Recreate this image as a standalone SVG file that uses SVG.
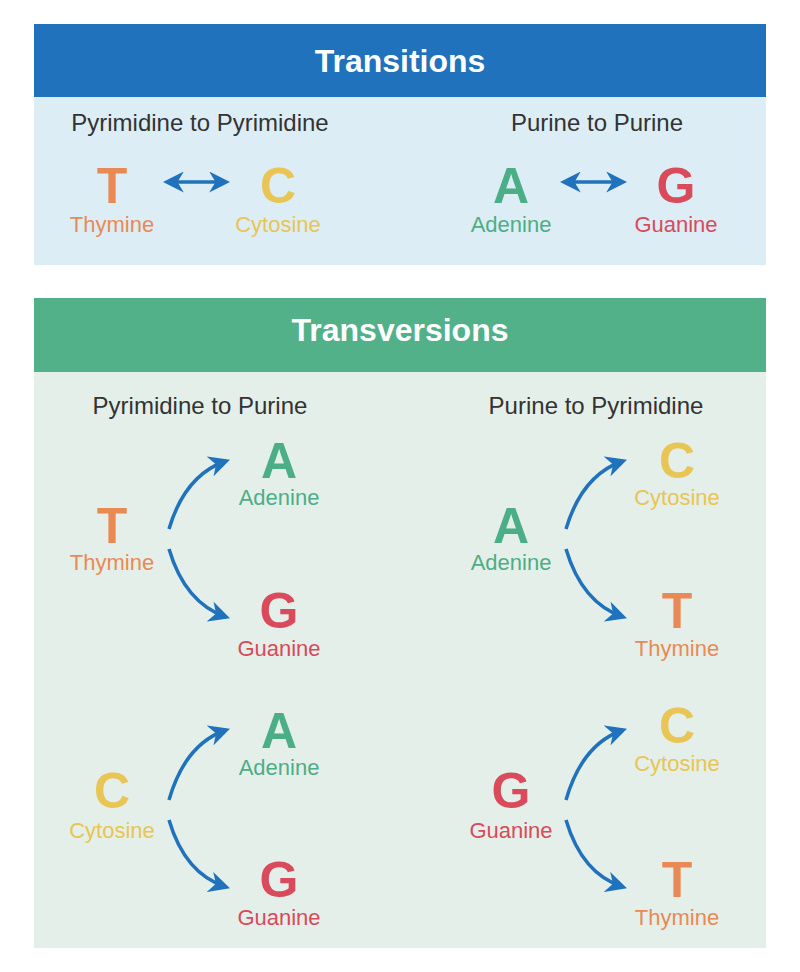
<svg xmlns="http://www.w3.org/2000/svg" width="800" height="972" viewBox="0 0 800 972">
<style>
text{font-family:"Liberation Sans",Arial,sans-serif;text-anchor:middle}
.h{font-size:32px;font-weight:bold;fill:#fff}
.s{font-size:24px;fill:#333}
.L{font-size:50px;font-weight:bold}
.n{font-size:22px}
.o{fill:#e98a55}.y{fill:#e8c554}.g{fill:#4cae86}.r{fill:#d94a5a}
.c{fill:none;stroke:#1f72bb;stroke-width:3.5}
</style>
<defs>
<marker id="ah" viewBox="0 0 10 10" refX="8" refY="5" markerWidth="6" markerHeight="6" orient="auto-start-reverse" markerUnits="strokeWidth">
<path d="M0,0 L10,5 L0,10 L3,5 Z" fill="#1f72bb"/>
</marker>
</defs>
<rect width="800" height="972" fill="#fff"/>
<g id="transitions">
<rect x="34" y="24" width="732" height="241" fill="#dcedf5"/>
<rect x="34" y="24" width="732" height="73" fill="#1f72bb"/>
<text class="h" x="400" y="72">Transitions</text>
<text class="s" x="200" y="131">Pyrimidine to Pyrimidine</text>
<text class="s" x="597" y="131">Purine to Purine</text>
</g>
<g id="tT"><text class="L o" x="112" y="203">T</text><text class="n o" x="112" y="232">Thymine</text></g>
<g id="tC"><text class="L y" x="278" y="203">C</text><text class="n y" x="278" y="232">Cytosine</text></g>
<g id="tA"><text class="L g" x="511" y="203">A</text><text class="n g" x="511" y="232">Adenine</text></g>
<g id="tG"><text class="L r" x="676" y="203">G</text><text class="n r" x="676" y="232">Guanine</text></g>
<g id="transversions">
<rect x="34" y="298" width="732" height="650" fill="#e4efe9"/>
<rect x="34" y="298" width="732" height="74" fill="#52b189"/>
<text class="h" x="400" y="341">Transversions</text>
<text class="s" x="200" y="414">Pyrimidine to Purine</text>
<text class="s" x="596" y="414">Purine to Pyrimidine</text>
</g>
<g id="g1T"><text class="L o" x="112" y="543">T</text><text class="n o" x="112" y="570">Thymine</text></g>
<g id="g1A"><text class="L g" x="279" y="478">A</text><text class="n g" x="279" y="505">Adenine</text></g>
<g id="g1G"><text class="L r" x="279" y="628">G</text><text class="n r" x="279" y="656">Guanine</text></g>
<g id="g2A"><text class="L g" x="511" y="543">A</text><text class="n g" x="511" y="570">Adenine</text></g>
<g id="g2C"><text class="L y" x="677" y="478">C</text><text class="n y" x="677" y="505">Cytosine</text></g>
<g id="g2T"><text class="L o" x="677" y="628">T</text><text class="n o" x="677" y="656">Thymine</text></g>
<g id="g3C"><text class="L y" x="112" y="808">C</text><text class="n y" x="112" y="838">Cytosine</text></g>
<g id="g3A"><text class="L g" x="279" y="748">A</text><text class="n g" x="279" y="775">Adenine</text></g>
<g id="g3G"><text class="L r" x="279" y="897">G</text><text class="n r" x="279" y="925">Guanine</text></g>
<g id="g4G"><text class="L r" x="511" y="808">G</text><text class="n r" x="511" y="838">Guanine</text></g>
<g id="g4C"><text class="L y" x="677" y="743">C</text><text class="n y" x="677" y="771">Cytosine</text></g>
<g id="g4T"><text class="L o" x="677" y="897">T</text><text class="n o" x="677" y="925">Thymine</text></g>
<g id="connectors">
<path class="c" d="M167,182 H226" marker-start="url(#ah)" marker-end="url(#ah)"/>
<path class="c" d="M564,182 H623" marker-start="url(#ah)" marker-end="url(#ah)"/>
<path class="c" d="M169,529 Q185,475 226,461" marker-end="url(#ah)"/>
<path class="c" d="M169,549 Q185,603 226,617" marker-end="url(#ah)"/>
<path class="c" d="M566,529 Q582,475 623,461" marker-end="url(#ah)"/>
<path class="c" d="M566,549 Q582,603 623,617" marker-end="url(#ah)"/>
<path class="c" d="M169,800 Q185,744 226,730" marker-end="url(#ah)"/>
<path class="c" d="M169,820 Q185,874 226,887" marker-end="url(#ah)"/>
<path class="c" d="M566,800 Q582,744 623,730" marker-end="url(#ah)"/>
<path class="c" d="M566,820 Q582,874 623,887" marker-end="url(#ah)"/>
</g>
</svg>
